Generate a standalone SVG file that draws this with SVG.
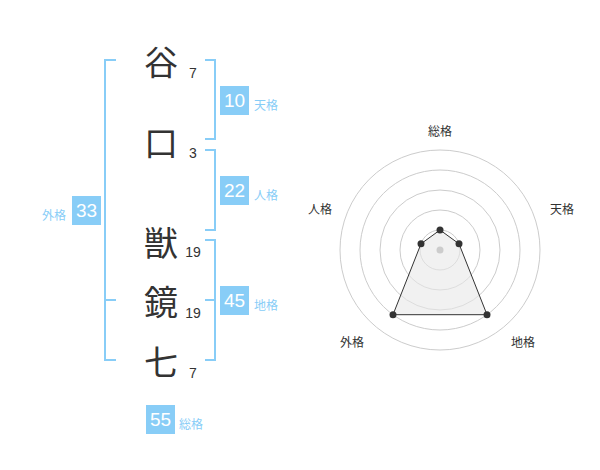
<svg xmlns="http://www.w3.org/2000/svg" width="600" height="470" viewBox="0 0 600 470">
<style>
.ch{font-family:"Noto Sans CJK JP","Noto Sans CJK SC",sans-serif;font-size:34px;fill:#333;text-anchor:middle;dominant-baseline:central}
.num{font-family:"Liberation Sans",Arial,sans-serif;font-size:14px;fill:#333;text-anchor:middle}
.br{fill:none;stroke:#88cdf7;stroke-width:2}
.box{fill:#88cdf7}
.bt{font-family:"Liberation Sans",Arial,sans-serif;font-size:19px;fill:#fff;text-anchor:middle;dominant-baseline:central}
.lb{font-family:"Noto Sans CJK JP","Noto Sans CJK SC",sans-serif;font-size:12px;fill:#88cdf7;dominant-baseline:central}
.rl{font-family:"Noto Sans CJK JP","Noto Sans CJK SC",sans-serif;font-size:12px;fill:#333;text-anchor:middle;dominant-baseline:central}
.ring{fill:none;stroke:#cccccc;stroke-width:1}
.pt{fill:#333}
</style>
<g id="chars">
<text class="ch" x="161" y="60">谷</text>
<text class="ch" x="161" y="141">口</text>
<text class="ch" x="161" y="241">獣</text>
<text class="ch" x="161" y="300">鏡</text>
<text class="ch" x="161" y="360">七</text>
</g>
<g id="strokes">
<text class="num" x="193" y="78">7</text>
<text class="num" x="193" y="158">3</text>
<text class="num" x="193" y="257">19</text>
<text class="num" x="193" y="318">19</text>
<text class="num" x="193" y="378">7</text>
</g>
<g id="connectors">
<path class="br" d="M116 60H105V360H116M105 300H116"/>
<path class="br" d="M205 60H215V139H205"/>
<path class="br" d="M205 150H215V230H205"/>
<path class="br" d="M205 240H215V360H205M205 300H215"/>
</g>
<g id="tenkaku">
<rect class="box" x="220" y="86" width="29" height="29"/>
<text class="bt" x="234.5" y="100.5">10</text>
<text class="lb" x="254" y="104">天格</text>
</g>
<g id="jinkaku">
<rect class="box" x="220" y="176" width="29" height="29"/>
<text class="bt" x="234.5" y="190.5">22</text>
<text class="lb" x="254" y="194">人格</text>
</g>
<g id="gaikaku">
<rect class="box" x="72" y="196" width="29" height="29"/>
<text class="bt" x="86.5" y="210.5">33</text>
<text class="lb" x="66" y="214" text-anchor="end">外格</text>
</g>
<g id="chikaku">
<rect class="box" x="220" y="286" width="29" height="29"/>
<text class="bt" x="234.5" y="300.5">45</text>
<text class="lb" x="254" y="304">地格</text>
</g>
<g id="soukaku">
<rect class="box" x="146" y="405" width="29" height="29"/>
<text class="bt" x="160.5" y="419.5">55</text>
<text class="lb" x="179" y="423">総格</text>
</g>
<g id="radar">
<circle class="ring" cx="440" cy="250" r="20"/>
<circle class="ring" cx="440" cy="250" r="40"/>
<circle class="ring" cx="440" cy="250" r="60"/>
<circle class="ring" cx="440" cy="250" r="80"/>
<circle class="ring" cx="440" cy="250" r="100"/>
<polygon points="440,230 459,243.8 487,314.7 393,314.7 421,243.8" fill="#e8e8e8" fill-opacity="0.6" stroke="#333" stroke-width="1"/>
<circle cx="440" cy="250" r="3.5" fill="#cccccc"/>
<circle class="pt" cx="440" cy="230" r="3.5"/>
<circle class="pt" cx="459" cy="243.8" r="3.5"/>
<circle class="pt" cx="487" cy="314.7" r="3.5"/>
<circle class="pt" cx="393" cy="314.7" r="3.5"/>
<circle class="pt" cx="421" cy="243.8" r="3.5"/>
<text class="rl" x="440" y="130">総格</text>
<text class="rl" x="562" y="208">天格</text>
<text class="rl" x="320" y="208">人格</text>
<text class="rl" x="352" y="341">外格</text>
<text class="rl" x="523" y="341">地格</text>
</g>
</svg>
